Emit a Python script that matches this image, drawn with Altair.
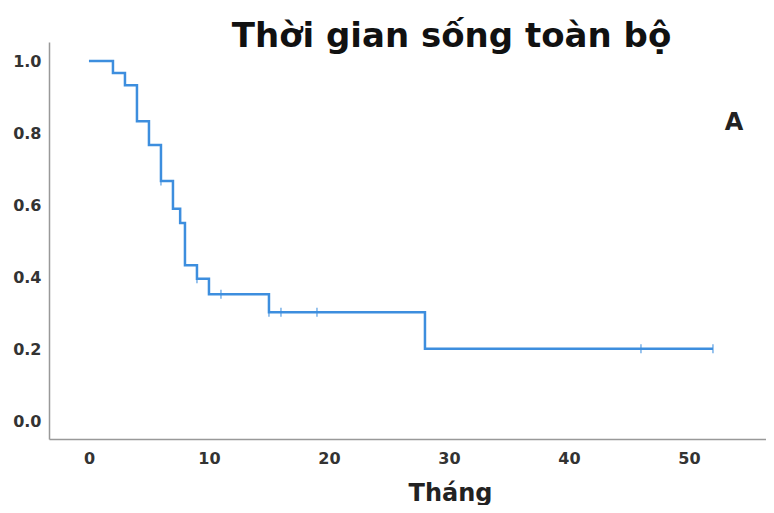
import altair as alt
import pandas as pd

# Kaplan-Meier step curve
times = [0, 2, 3, 4, 5, 6, 7, 7.6, 8, 9, 10, 15, 28, 52]
surv = [1.0, 0.967, 0.933, 0.833, 0.767, 0.667, 0.59, 0.55, 0.433, 0.395, 0.352, 0.302, 0.201, 0.201]

# censored observations
cens_t = [6, 9, 11, 15, 16, 19, 46, 52]
cens_s = [0.667, 0.395, 0.352, 0.302, 0.302, 0.302, 0.201, 0.201]

# panel label
label_text = ["A"]
label_x = [53.75]
label_y = [0.828]

x_ticks = [0, 10, 20, 30, 40, 50]
y_ticks = [0.0, 0.2, 0.4, 0.6, 0.8, 1.0]

curve = pd.DataFrame({"t": times, "s": surv})
cens = pd.DataFrame({"t": cens_t, "s": cens_s})
lab = pd.DataFrame({"t": label_x, "s": label_y, "txt": label_text})

FONT = "DejaVu Sans"
BLUE = "#3d8ede"

xscale = alt.Scale(domain=[-3.33, 56.42], nice=False, zero=False)
yscale = alt.Scale(domain=[-0.05, 1.053], nice=False, zero=False)

xenc = alt.X("t:Q", scale=xscale, axis=alt.Axis(
    values=x_ticks, title="Tháng", grid=False, ticks=False,
    labelFont=FONT, labelFontSize=16, labelFontWeight="bold", labelColor="#333333",
    labelPadding=11, domainColor="#999999", domainWidth=1.5,
    titleFont=FONT, titleFontSize=24, titleFontWeight="bold", titleColor="#222222",
    titleX=401, titleY=61, titleBaseline="alphabetic", titleAnchor="start", titleAlign="center"))
yenc = alt.Y("s:Q", scale=yscale, axis=alt.Axis(
    values=y_ticks, format=".1f", title=None, grid=False, ticks=False,
    labelFont=FONT, labelFontSize=16, labelFontWeight="bold", labelColor="#333333",
    labelPadding=8, domainColor="#999999", domainWidth=1.5))

line = alt.Chart(curve).mark_line(interpolate="step-after", color=BLUE, strokeWidth=2.5).encode(
    x=xenc, y=yenc)

ticks = alt.Chart(cens).mark_tick(orient="vertical", color=BLUE, size=9, thickness=1.5).encode(
    x=alt.X("t:Q", scale=xscale), y=alt.Y("s:Q", scale=yscale))

label = alt.Chart(lab).mark_text(font=FONT, fontSize=24, fontWeight="bold", color="#222222").encode(
    x=alt.X("t:Q", scale=xscale), y=alt.Y("s:Q", scale=yscale), text="txt:N")

chart = alt.layer(line, ticks, label).properties(
    width=717, height=397,
    title=alt.TitleParams("Thời gian sống toàn bộ", font=FONT, fontSize=34, fontWeight="bold",
                          color="#111111", anchor="middle", dx=44, dy=16),
    autosize=alt.AutoSizeParams(type="none"),
    padding={"left": 41, "top": 34, "right": 0, "bottom": 66},
).configure_view(stroke=None)

chart.save("out.html", embed_options={"renderer": "svg", "actions": False})
